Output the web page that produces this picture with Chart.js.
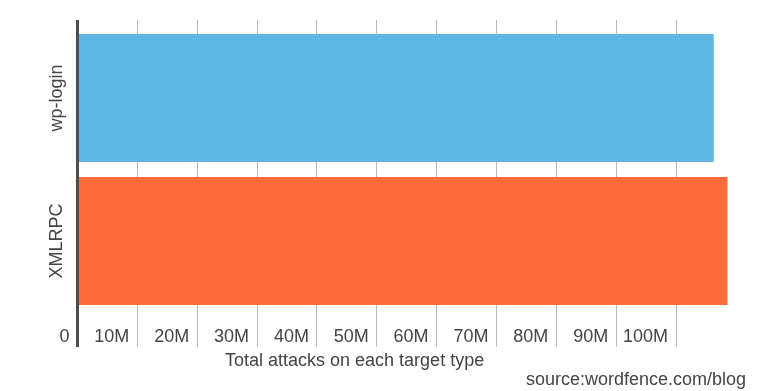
<!DOCTYPE html>
<html lang="en">
<head>
<meta charset="UTF-8">
<title>Total attacks on each target type</title>
<script src="https://cdn.jsdelivr.net/npm/chart.js"></script>
<style>
  html, body { margin: 0; padding: 0; background: #fff; }
  .chart-box { width: 770px; height: 391px; position: relative; }
</style>
</head>
<body>
<div class="chart-box"><canvas id="attacks"></canvas></div>
<script>
// values in millions of attacks
const categories = ['wp-login', 'XMLRPC'];
const attacks = [106.3, 108.6];
const barColors = ['#5eb6e4', '#ff6a3a'];
const tickLabels = ['0', '10M', '20M', '30M', '40M', '50M', '60M', '70M', '80M', '90M', '100M'];
const axisTitle = 'Total attacks on each target type';
const sourceNote = 'source:wordfence.com/blog';

const textColor = '#444444';
const axisColor = '#4d4d4d';
const gridColor = '#b8b8b8';

Chart.defaults.font.family = '"Liberation Sans", Arial, sans-serif';
Chart.defaults.font.size = 18;
Chart.defaults.color = textColor;

function lineColor(ctx) {
    const v = ctx.tick ? ctx.tick.value : -1;
    if (v === 0) return axisColor;
    if (v > 100) return 'rgba(0,0,0,0)';
    return gridColor;
}
function lineWidth(ctx) {
    return ctx.tick && ctx.tick.value === 0 ? 3 : 1;
}

// axis title and source line under the plot
const footerText = {
    id: 'footerText',
    afterDraw(chart) {
        const ctx = chart.ctx;
        ctx.save();
        ctx.font = '18px "Liberation Sans", Arial, sans-serif';
        ctx.fillStyle = textColor;
        ctx.textBaseline = 'alphabetic';
        ctx.textAlign = 'left';
        ctx.fillText(axisTitle, 225, 366);
        ctx.textAlign = 'right';
        ctx.fillText(sourceNote, chart.width - 24, 385);
        ctx.restore();
    }
};

new Chart(document.getElementById('attacks'), {
    type: 'bar',
    data: {
        labels: categories,
        datasets: [{
            data: attacks,
            backgroundColor: barColors,
            borderWidth: 0,
            categoryPercentage: 1,
            barPercentage: 0.895
        }]
    },
    options: {
        indexAxis: 'y',
        responsive: true,
        maintainAspectRatio: false,
        animation: false,
        layout: { padding: { top: 20, right: 34.15, bottom: 0, left: 0 } },
        plugins: {
            legend: { display: false },
            tooltip: { enabled: false }
        },
        scales: {
            x: {
                type: 'linear',
                position: 'bottom',
                min: 0,
                max: 110,
                border: { display: false },
                grid: {
                    color: lineColor,
                    lineWidth: lineWidth,
                    drawTicks: true,
                    tickLength: 34.5
                },
                ticks: {
                    stepSize: 10,
                    autoSkip: false,
                    maxRotation: 0,
                    align: 'end',
                    labelOffset: -8,
                    padding: -21,
                    color: textColor,
                    callback: (value, i) => tickLabels[i] ?? ''
                },
                afterFit: s => { s.height = 78.5; }
            },
            x2: {
                type: 'linear',
                position: 'top',
                min: 0,
                max: 110,
                border: { display: false },
                grid: {
                    color: lineColor,
                    lineWidth: lineWidth,
                    drawOnChartArea: false,
                    drawTicks: true,
                    tickLength: 6.5
                },
                ticks: { stepSize: 10, display: false },
                afterFit: s => { s.height = 6.5; }
            },
            y: {
                grid: { display: false },
                border: { display: true, color: axisColor, width: 3, z: 1 },
                ticks: {
                    minRotation: 90,
                    maxRotation: 90,
                    crossAlign: 'center',
                    padding: -25,
                    color: textColor
                },
                afterFit: s => { s.width = 77.5; }
            }
        }
    },
    plugins: [footerText]
});
</script>
</body>
</html>
